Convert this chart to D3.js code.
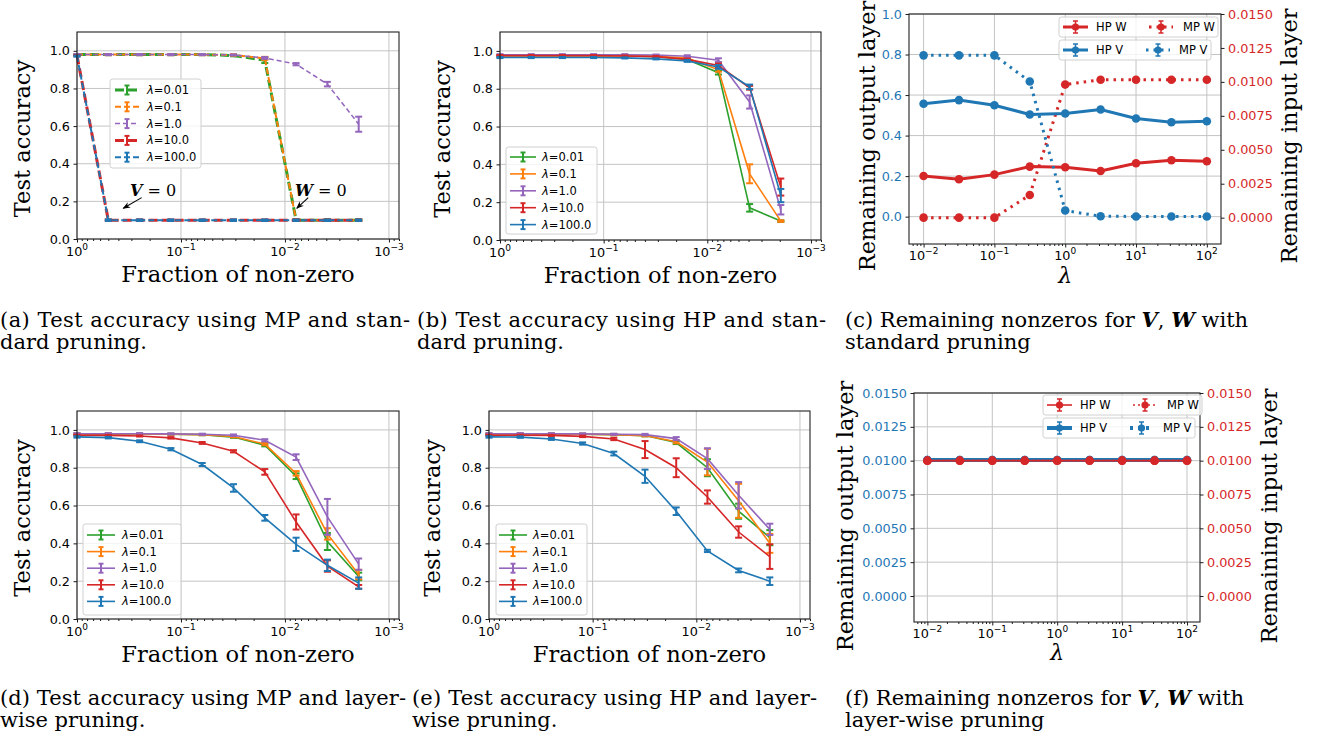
<!DOCTYPE html>
<html>
<head>
<meta charset="utf-8">
<script src="https://cdn.jsdelivr.net/npm/d3@7"></script>
<style>
body { margin: 0; background: #fff; }
svg { display: block; }
</style>
</head>
<body>
<svg width="1325" height="742"></svg>
<script>
// ---- data ----
var fractions = [1, 0.5, 0.25, 0.125, 0.0625, 0.03125, 0.015625, 0.0078125, 0.00390625, 0.001953125];
var lambdaLabels = ["0.01", "0.1", "1.0", "10.0", "100.0"];
var lambdaGrid = [0.01, 0.0316, 0.1, 0.316, 1, 3.16, 10, 31.6, 100];

// (a) MP, standard pruning  (rows: lambda 0.01, 0.1, 1.0, 10.0, 100.0)
var accMpStd = [
    [0.98, 0.98, 0.98, 0.98, 0.98, 0.975, 0.95, 0.10, 0.10, 0.10],
    [0.98, 0.98, 0.98, 0.98, 0.98, 0.978, 0.96, 0.10, 0.10, 0.10],
    [0.98, 0.98, 0.98, 0.98, 0.98, 0.978, 0.962, 0.929, 0.823, 0.61],
    [0.975, 0.10, 0.10, 0.10, 0.10, 0.10, 0.10, 0.10, 0.10, 0.10],
    [0.972, 0.10, 0.10, 0.10, 0.10, 0.10, 0.10, 0.10, 0.10, 0.10]
];
var errMpStd = [
    [0.003, 0.003, 0.003, 0.003, 0.003, 0.004, 0.015, 0.004, 0.004, 0.004],
    [0.003, 0.003, 0.003, 0.003, 0.003, 0.004, 0.008, 0.004, 0.004, 0.004],
    [0.003, 0.003, 0.003, 0.003, 0.003, 0.003, 0.005, 0.006, 0.012, 0.04],
    [0.003, 0.004, 0.004, 0.004, 0.004, 0.004, 0.004, 0.004, 0.004, 0.004],
    [0.003, 0.004, 0.004, 0.004, 0.004, 0.004, 0.004, 0.004, 0.004, 0.004]
];

// (b) HP, standard pruning
var accHpStd = [
    [0.975, 0.975, 0.975, 0.975, 0.975, 0.97, 0.955, 0.885, 0.17, 0.10],
    [0.975, 0.975, 0.975, 0.975, 0.975, 0.972, 0.962, 0.90, 0.35, 0.10],
    [0.98, 0.98, 0.98, 0.98, 0.98, 0.978, 0.972, 0.951, 0.73, 0.16],
    [0.975, 0.975, 0.975, 0.975, 0.973, 0.97, 0.955, 0.923, 0.805, 0.28],
    [0.965, 0.965, 0.965, 0.965, 0.963, 0.958, 0.947, 0.915, 0.81, 0.235]
];
var errHpStd = [
    [0.003, 0.003, 0.003, 0.003, 0.003, 0.003, 0.005, 0.01, 0.02, 0.004],
    [0.003, 0.003, 0.003, 0.003, 0.003, 0.003, 0.005, 0.01, 0.05, 0.004],
    [0.003, 0.003, 0.003, 0.003, 0.003, 0.003, 0.005, 0.01, 0.035, 0.025],
    [0.003, 0.003, 0.003, 0.003, 0.003, 0.003, 0.005, 0.01, 0.01, 0.045],
    [0.003, 0.003, 0.003, 0.003, 0.003, 0.003, 0.005, 0.01, 0.012, 0.035]
];

// (d) MP, layer-wise pruning
var accMpLw = [
    [0.978, 0.978, 0.978, 0.977, 0.975, 0.962, 0.919, 0.755, 0.41, 0.225],
    [0.978, 0.978, 0.978, 0.977, 0.975, 0.965, 0.925, 0.77, 0.45, 0.235],
    [0.98, 0.98, 0.98, 0.979, 0.977, 0.972, 0.945, 0.856, 0.54, 0.29],
    [0.972, 0.971, 0.968, 0.958, 0.931, 0.887, 0.778, 0.513, 0.28, 0.17],
    [0.963, 0.959, 0.94, 0.898, 0.817, 0.693, 0.535, 0.395, 0.284, 0.19]
];
var errMpLw = [
    [0.003, 0.003, 0.003, 0.003, 0.003, 0.004, 0.006, 0.015, 0.045, 0.02],
    [0.003, 0.003, 0.003, 0.003, 0.003, 0.004, 0.006, 0.012, 0.03, 0.025],
    [0.003, 0.003, 0.003, 0.003, 0.003, 0.004, 0.006, 0.015, 0.095, 0.03],
    [0.003, 0.003, 0.003, 0.004, 0.005, 0.006, 0.015, 0.04, 0.03, 0.01],
    [0.004, 0.004, 0.005, 0.006, 0.008, 0.02, 0.015, 0.035, 0.03, 0.03]
];

// (e) HP, layer-wise pruning
var accHpLw = [
    [0.978, 0.978, 0.978, 0.977, 0.975, 0.97, 0.933, 0.80, 0.57, 0.43],
    [0.978, 0.978, 0.978, 0.977, 0.975, 0.97, 0.937, 0.83, 0.625, 0.40],
    [0.98, 0.98, 0.98, 0.979, 0.977, 0.975, 0.954, 0.848, 0.654, 0.474],
    [0.972, 0.972, 0.971, 0.966, 0.952, 0.896, 0.80, 0.645, 0.46, 0.33],
    [0.963, 0.962, 0.952, 0.928, 0.875, 0.755, 0.57, 0.36, 0.257, 0.20]
];
var errHpLw = [
    [0.003, 0.003, 0.003, 0.003, 0.003, 0.004, 0.008, 0.045, 0.04, 0.04],
    [0.003, 0.003, 0.003, 0.003, 0.003, 0.004, 0.008, 0.07, 0.09, 0.05],
    [0.003, 0.003, 0.003, 0.003, 0.003, 0.004, 0.008, 0.055, 0.07, 0.03],
    [0.003, 0.003, 0.003, 0.004, 0.006, 0.045, 0.05, 0.035, 0.03, 0.065],
    [0.004, 0.004, 0.005, 0.006, 0.01, 0.035, 0.02, 0.006, 0.01, 0.02]
];

// (c) remaining nonzeros, standard pruning
var hpVStd = [0.557, 0.575, 0.550, 0.504, 0.509, 0.529, 0.484, 0.466, 0.471];
var mpVStd = [0.796, 0.796, 0.796, 0.667, 0.030, 0.002, 0.001, 0.001, 0.001];
var hpWStd = [0.00307, 0.00283, 0.00317, 0.00376, 0.00371, 0.00344, 0.00401, 0.00423, 0.00416];
var mpWStd = [0.0, 0.0, 0.0, 0.00167, 0.00981, 0.01016, 0.01016, 0.01016, 0.01016];

// (f) remaining nonzeros, layer-wise pruning
var hpVLw = [0.01005, 0.01005, 0.01005, 0.01005, 0.01005, 0.01005, 0.01005, 0.01005, 0.01005];
var mpVLw = [0.01005, 0.01005, 0.01005, 0.01005, 0.01005, 0.01005, 0.01005, 0.01005, 0.01005];
var hpWLw = [0.0100, 0.0100, 0.0100, 0.0100, 0.0100, 0.0100, 0.0100, 0.0100, 0.0100];
var mpWLw = [0.0100, 0.0100, 0.0100, 0.0100, 0.0100, 0.0100, 0.0100, 0.0100, 0.0100];

var accTicks = [0, 0.2, 0.4, 0.6, 0.8, 1.0];
var fracTicks = [1, 0.1, 0.01, 0.001];
var fracTickExp = ["0", "\u22121", "\u22122", "\u22123"];
var lamTicks = [0.01, 0.1, 1, 10, 100];
var lamTickExp = ["\u22122", "\u22121", "0", "1", "2"];
var remStdLeftTicks = [0, 0.2, 0.4, 0.6, 0.8, 1.0];
var remTicks = [0, 0.0025, 0.005, 0.0075, 0.01, 0.0125, 0.015];

// ---- styles ----
var C = { green: "#2ca02c", orange: "#ff7f0e", purple: "#9467bd", red: "#d62728", blue: "#1f77b4" };
var lamColors = [C.green, C.orange, C.purple, C.red, C.blue];
var sans = "DejaVu Sans", serif = "DejaVu Serif";
var gridColor = "#c4c4c4";

var svg = d3.select("svg");

function minorLog(lo, hi) {
    var out = [];
    for (var d = -5; d <= 3; d++) {
        for (var k = 2; k <= 9; k++) {
            var v = k * Math.pow(10, d);
            if (v >= lo && v <= hi) out.push(v);
        }
    }
    return out;
}

function powLabel(g, xpos, ypos, exp, fill) {
    var t = g.append("text")
        .attr("x", xpos).attr("y", ypos)
        .attr("text-anchor", "middle")
        .attr("font-family", sans).attr("font-size", 12.8)
        .attr("fill", fill || "#000");
    t.append("tspan").text("10");
    t.append("tspan").attr("dy", -6).attr("font-size", 9).text(exp);
}

function styleAxis(a, color) {
    a.select(".domain").remove();
    a.selectAll("line").attr("stroke", "#000").attr("stroke-width", 0.9);
    a.selectAll("text").attr("font-family", sans).attr("font-size", 12.8).attr("fill", color || "#000");
}

function errBar(g, xp, y0, y1, color, w, cap) {
    g.append("line").attr("x1", xp).attr("x2", xp).attr("y1", y0).attr("y2", y1)
        .attr("stroke", color).attr("stroke-width", w);
    [y0, y1].forEach(function (yy) {
        g.append("line").attr("x1", xp - cap).attr("x2", xp + cap).attr("y1", yy).attr("y2", yy)
            .attr("stroke", color).attr("stroke-width", w);
    });
}

function rotLabel(cx, cy, txt) {
    svg.append("text")
        .attr("transform", "translate(" + cx + "," + cy + ") rotate(-90)")
        .attr("text-anchor", "middle")
        .attr("dominant-baseline", "central")
        .attr("font-family", serif).attr("font-size", 22.6)
        .text(txt);
}

// ---- accuracy panels (a), (b), (d), (e) ----
function accPanel(o) {
    var g = svg.append("g");
    var x = d3.scaleLog().domain([1, 0.0008]).range([o.left, o.right]);
    var y = d3.scaleLinear().domain([0, 1.1]).range([o.bottom, o.top]);

    g.selectAll(".gx").data(fracTicks).enter().append("line")
        .attr("x1", function (d) { return x(d); }).attr("x2", function (d) { return x(d); })
        .attr("y1", o.top).attr("y2", o.bottom)
        .attr("stroke", gridColor).attr("stroke-width", 1);
    g.selectAll(".gy").data(accTicks).enter().append("line")
        .attr("x1", o.left).attr("x2", o.right)
        .attr("y1", function (d) { return y(d); }).attr("y2", function (d) { return y(d); })
        .attr("stroke", gridColor).attr("stroke-width", 1);

    var ax = g.append("g").attr("transform", "translate(0," + o.bottom + ")")
        .call(d3.axisBottom(x).tickValues(minorLog(0.0008, 1)).tickSize(2).tickFormat(""));
    styleAxis(ax);
    ax = g.append("g").attr("transform", "translate(0," + o.bottom + ")")
        .call(d3.axisBottom(x).tickValues(fracTicks).tickSize(3.5).tickFormat(""));
    styleAxis(ax);
    fracTicks.forEach(function (v, i) { powLabel(g, x(v), o.bottom + 17, fracTickExp[i]); });

    var ay = g.append("g").attr("transform", "translate(" + o.left + ",0)")
        .call(d3.axisLeft(y).tickValues(accTicks).tickSize(3.5).tickPadding(3.5).tickFormat(d3.format(".1f")));
    styleAxis(ay);

    var line = d3.line()
        .x(function (d, i) { return x(fractions[i]); })
        .y(function (d) { return y(d); });

    o.values.forEach(function (vals, s) {
        var st = o.styles[s];
        g.append("path").datum(vals)
            .attr("d", line)
            .attr("fill", "none")
            .attr("stroke", lamColors[s])
            .attr("stroke-width", st.w)
            .attr("stroke-dasharray", st.dash || null);
        vals.forEach(function (v, i) {
            var e = o.errors[s][i];
            errBar(g, x(fractions[i]), y(v - e), y(v + e), lamColors[s], 2, 3.5);
        });
    });

    g.append("rect")
        .attr("x", o.left).attr("y", o.top)
        .attr("width", o.right - o.left).attr("height", o.bottom - o.top)
        .attr("fill", "none").attr("stroke", "#222").attr("stroke-width", 1.1);

    // legend
    var L = o.legend;
    g.append("rect")
        .attr("x", L.x).attr("y", L.y).attr("width", L.w).attr("height", L.h)
        .attr("rx", 2.5).attr("fill", "#fff").attr("fill-opacity", 0.8)
        .attr("stroke", "#d0d0d0").attr("stroke-width", 1);
    lambdaLabels.forEach(function (lab, s) {
        var yy = L.y + L.row0 + s * L.dy;
        var st = o.styles[s];
        g.append("line")
            .attr("x1", L.hx0).attr("x2", L.hx1).attr("y1", yy).attr("y2", yy)
            .attr("stroke", lamColors[s]).attr("stroke-width", st.w)
            .attr("stroke-dasharray", st.dash || null);
        errBar(g, (L.hx0 + L.hx1) / 2, yy - 4.5, yy + 4.5, lamColors[s], 2, 2.5);
        var t = g.append("text")
            .attr("x", L.tx).attr("y", yy)
            .attr("dominant-baseline", "central")
            .attr("font-family", sans).attr("font-size", 11.5);
        t.append("tspan").attr("font-style", "italic").text("\u03bb");
        t.append("tspan").text("=" + lab);
    });

    rotLabel(o.ylabX, (o.top + o.bottom) / 2 + 3, "Test accuracy");
    svg.append("text")
        .attr("x", (o.left + o.right) / 2).attr("y", o.bottom + 43)
        .attr("text-anchor", "middle")
        .attr("font-family", serif).attr("font-size", 22.6)
        .text("Fraction of non-zero");

    return { x: x, y: y, g: g };
}

var solid = [{ w: 1.6 }, { w: 1.6 }, { w: 1.6 }, { w: 1.6 }, { w: 1.6 }];
var dashed = [
    { w: 3, dash: "9,4" },
    { w: 2, dash: "6,3" },
    { w: 1.5, dash: "5,3" },
    { w: 3, dash: "9,4" },
    { w: 2, dash: "6,3" }
];

var pa = accPanel({
    left: 77, right: 399, top: 32, bottom: 239, values: accMpStd, errors: errMpStd, styles: dashed,
    ylabX: 22,
    legend: { x: 110, y: 79, w: 91, h: 89, row0: 11, dy: 16.8, hx0: 115, hx1: 139, tx: 147 }
});

// annotations in (a)
var notes = [
    { sym: "V", tx: 0.31, ty: 0.229, ax0: 0.239, ay0: 0.22, ax1: 0.359, ay1: 0.163 },
    { sym: "W", tx: 0.0080, ty: 0.229, ax0: 0.00597, ay0: 0.22, ax1: 0.0077, ay1: 0.163 }
];
svg.append("defs").append("marker")
    .attr("id", "ah").attr("viewBox", "0 0 10 10").attr("refX", 9).attr("refY", 5)
    .attr("markerWidth", 7).attr("markerHeight", 7).attr("orient", "auto")
    .append("path").attr("d", "M0,1 L10,5 L0,9 L3,5 Z").attr("fill", "#000");
notes.forEach(function (n) {
    var t = pa.g.append("text")
        .attr("x", pa.x(n.tx)).attr("y", pa.y(n.ty))
        .attr("font-family", serif).attr("font-size", 16);
    t.append("tspan").attr("font-weight", "bold").attr("font-style", "italic").text(n.sym);
    t.append("tspan").text(" = 0");
    pa.g.append("line")
        .attr("x1", pa.x(n.ax0)).attr("y1", pa.y(n.ay0))
        .attr("x2", pa.x(n.ax1)).attr("y2", pa.y(n.ay1))
        .attr("stroke", "#000").attr("stroke-width", 1.1)
        .attr("marker-end", "url(#ah)");
});

accPanel({
    left: 500, right: 821, top: 32, bottom: 240, values: accHpStd, errors: errHpStd, styles: solid,
    ylabX: 442,
    legend: { x: 506, y: 147, w: 91, h: 87, row0: 10, dy: 16.9, hx0: 510, hx1: 536, tx: 542 }
});
accPanel({
    left: 77, right: 399, top: 411, bottom: 619, values: accMpLw, errors: errMpLw, styles: solid,
    ylabX: 22,
    legend: { x: 83, y: 524, w: 98, h: 91, row0: 11, dy: 16.6, hx0: 87, hx1: 115, tx: 122 }
});
accPanel({
    left: 489, right: 810, top: 411, bottom: 619, values: accHpLw, errors: errHpLw, styles: solid,
    ylabX: 432,
    legend: { x: 496, y: 524, w: 91, h: 91, row0: 11, dy: 16.6, hx0: 499, hx1: 527, tx: 533 }
});

// ---- remaining-nonzero panels (c), (f) ----
function remPanel(o) {
    var g = svg.append("g");
    var x = d3.scaleLog().domain([Math.pow(10, -2.206), Math.pow(10, 2.2)]).range([o.left, o.right]);
    var yl = d3.scaleLinear().domain(o.leftDomain).range([o.bottom, o.top]);
    var yr = d3.scaleLinear().domain(o.rightDomain).range([o.bottom, o.top]);

    g.selectAll(".gx").data(lamTicks).enter().append("line")
        .attr("x1", function (d) { return x(d); }).attr("x2", function (d) { return x(d); })
        .attr("y1", o.top).attr("y2", o.bottom)
        .attr("stroke", gridColor).attr("stroke-width", 1);
    g.selectAll(".gy").data(o.leftTicks).enter().append("line")
        .attr("x1", o.left).attr("x2", o.right)
        .attr("y1", function (d) { return yl(d); }).attr("y2", function (d) { return yl(d); })
        .attr("stroke", gridColor).attr("stroke-width", 1);

    var ax = g.append("g").attr("transform", "translate(0," + o.bottom + ")")
        .call(d3.axisBottom(x).tickValues(minorLog(x.domain()[0], x.domain()[1])).tickSize(2).tickFormat(""));
    styleAxis(ax);
    ax = g.append("g").attr("transform", "translate(0," + o.bottom + ")")
        .call(d3.axisBottom(x).tickValues(lamTicks).tickSize(3.5).tickFormat(""));
    styleAxis(ax);
    lamTicks.forEach(function (v, i) { powLabel(g, x(v), o.bottom + 16, lamTickExp[i]); });

    var ay = g.append("g").attr("transform", "translate(" + o.left + ",0)")
        .call(d3.axisLeft(yl).tickValues(o.leftTicks).tickSize(3.5).tickPadding(3.5).tickFormat(d3.format(o.leftFmt)));
    styleAxis(ay, C.blue);
    var ayr = g.append("g").attr("transform", "translate(" + o.right + ",0)")
        .call(d3.axisRight(yr).tickValues(remTicks).tickSize(3.5).tickPadding(3.5).tickFormat(d3.format(".4f")));
    styleAxis(ayr, C.red);

    o.series.forEach(function (s) {
        var sc = s.axis === "left" ? yl : yr;
        var line = d3.line()
            .x(function (d, i) { return x(lambdaGrid[i]); })
            .y(function (d) { return sc(d); });
        g.append("path").datum(s.values)
            .attr("d", line).attr("fill", "none")
            .attr("stroke", s.color).attr("stroke-width", s.w)
            .attr("stroke-dasharray", s.dash || null);
        s.values.forEach(function (v, i) {
            g.append("circle")
                .attr("cx", x(lambdaGrid[i])).attr("cy", sc(v)).attr("r", 4.3)
                .attr("fill", s.color);
        });
    });

    g.append("rect")
        .attr("x", o.left).attr("y", o.top)
        .attr("width", o.right - o.left).attr("height", o.bottom - o.top)
        .attr("fill", "none").attr("stroke", "#222").attr("stroke-width", 1.1);

    // two legends
    o.legends.forEach(function (L) {
        g.append("rect")
            .attr("x", L.x).attr("y", L.y).attr("width", L.w).attr("height", 20)
            .attr("rx", 2.5).attr("fill", "#fff").attr("fill-opacity", 0.8)
            .attr("stroke", "#d0d0d0").attr("stroke-width", 1);
        L.items.forEach(function (it) {
            var s = o.series[it.s];
            var yy = L.y + 10;
            g.append("line").attr("x1", it.h0).attr("x2", it.h1).attr("y1", yy).attr("y2", yy)
                .attr("stroke", s.color).attr("stroke-width", s.w)
                .attr("stroke-dasharray", s.dash || null);
            var mx = (it.h0 + it.h1) / 2;
            errBar(g, mx, yy - 6, yy + 6, s.color, 1.5, 2.5);
            g.append("circle").attr("cx", mx).attr("cy", yy).attr("r", 3.6).attr("fill", s.color);
            g.append("text").attr("x", it.tx).attr("y", yy)
                .attr("dominant-baseline", "central")
                .attr("font-family", sans).attr("font-size", 11.5)
                .text(s.name);
        });
    });

    rotLabel(o.lLabX, o.lLabY, "Remaining output layer");
    rotLabel(o.rLabX, o.rLabY, "Remaining input layer");
    svg.append("text")
        .attr("x", x(1)).attr("y", o.bottom + o.lamDy)
        .attr("text-anchor", "middle")
        .attr("font-family", serif).attr("font-style", "italic").attr("font-size", 22)
        .text("\u03bb");
}

remPanel({
    left: 909, right: 1221, top: 14, bottom: 244,
    leftDomain: [-0.135, 1.0], rightDomain: [-0.00194, 0.015],
    leftTicks: remStdLeftTicks, leftFmt: ".1f",
    series: [
        { name: "HP W", values: hpWStd, axis: "right", color: C.red, w: 3 },
        { name: "MP W", values: mpWStd, axis: "right", color: C.red, w: 3, dash: "2.5,5" },
        { name: "HP V", values: hpVStd, axis: "left", color: C.blue, w: 3 },
        { name: "MP V", values: mpVStd, axis: "left", color: C.blue, w: 3, dash: "2.5,5" }
    ],
    legends: [
        { x: 1059, y: 17, w: 159, items: [{ s: 0, h0: 1063, h1: 1088, tx: 1096 }, { s: 1, h0: 1149, h1: 1173, tx: 1183 }] },
        { x: 1059, y: 40, w: 152, items: [{ s: 2, h0: 1063, h1: 1088, tx: 1096 }, { s: 3, h0: 1146, h1: 1170, tx: 1179 }] }
    ],
    lLabX: 867, lLabY: 136, rLabX: 1289, rLabY: 136, lamDy: 39
});

remPanel({
    left: 914, right: 1200, top: 393, bottom: 622,
    leftDomain: [-0.00192, 0.015], rightDomain: [-0.00192, 0.015],
    leftTicks: remTicks, leftFmt: ".4f",
    series: [
        { name: "HP V", values: hpVLw, axis: "left", color: C.blue, w: 4 },
        { name: "MP V", values: mpVLw, axis: "left", color: C.blue, w: 4, dash: "3,5" },
        { name: "HP W", values: hpWLw, axis: "right", color: C.red, w: 1.6 },
        { name: "MP W", values: mpWLw, axis: "right", color: C.red, w: 1.6, dash: "2,3" }
    ],
    legends: [
        { x: 1043, y: 395, w: 159, items: [{ s: 2, h0: 1047, h1: 1072, tx: 1080 }, { s: 3, h0: 1133, h1: 1157, tx: 1167 }] },
        { x: 1043, y: 418, w: 152, items: [{ s: 0, h0: 1047, h1: 1072, tx: 1080 }, { s: 1, h0: 1130, h1: 1153, tx: 1163 }] }
    ],
    lLabX: 845, lLabY: 516, rLabX: 1269, rLabY: 516, lamDy: 38
});

// ---- captions (first lines are justified to the sub-figure width) ----
var captions = [
    { x: 0, y: 327, w: 410, l1: [["(a) Test accuracy using MP and stan-"]], l2: "dard pruning." },
    { x: 417, y: 327, w: 409, l1: [["(b) Test accuracy using HP and stan-"]], l2: "dard pruning." },
    { x: 845, y: 327, w: 0, l1: [["(c) Remaining nonzeros for "], ["V", 1], [", "], ["W", 1], [" with"]], l2: "standard pruning" },
    { x: 0, y: 705, w: 406, l1: [["(d) Test accuracy using MP and layer-"]], l2: "wise pruning." },
    { x: 412, y: 705, w: 405, l1: [["(e) Test accuracy using HP and layer-"]], l2: "wise pruning." },
    { x: 845, y: 705, w: 0, l1: [["(f) Remaining nonzeros for "], ["V", 1], [", "], ["W", 1], [" with"]], l2: "layer-wise pruning" }
];
captions.forEach(function (c) {
    var t = svg.append("text").attr("x", c.x).attr("y", c.y)
        .attr("font-family", serif).attr("font-size", 21);
    c.l1.forEach(function (p) {
        var ts = t.append("tspan").text(p[0]);
        if (p[1]) ts.attr("font-weight", "bold").attr("font-style", "italic");
    });
    if (c.w) t.attr("textLength", c.w).attr("lengthAdjust", "spacing");
    svg.append("text").attr("x", c.x).attr("y", c.y + 22)
        .attr("font-family", serif).attr("font-size", 21)
        .text(c.l2);
});
</script>
</body>
</html>
